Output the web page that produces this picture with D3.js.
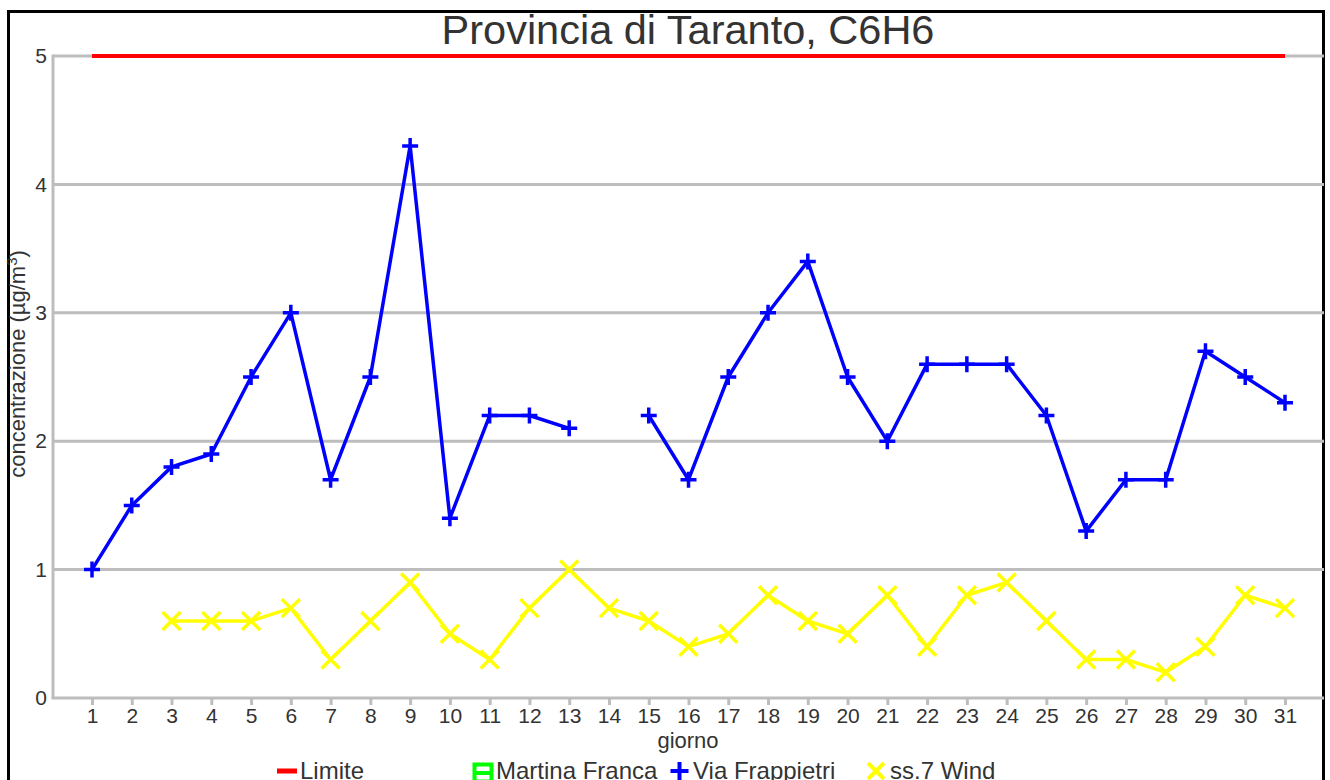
<!DOCTYPE html>
<html>
<head>
<meta charset="utf-8">
<script src="https://cdn.jsdelivr.net/npm/d3@7"></script>
<style>
  html, body { margin: 0; padding: 0; background: #fff; }
  svg { display: block; font-family: "Liberation Sans", Arial, sans-serif; }
</style>
</head>
<body>
<svg id="chart" width="1330" height="780"></svg>
<script>
// Daily benzene (C6H6) concentrations, province of Taranto
const days = d3.range(1, 32);
const yTicks = [0, 1, 2, 3, 4, 5];
const limite = 5;
const martinaFranca = days.map(() => null);
const viaFrappietri = [1.0, 1.5, 1.8, 1.9, 2.5, 3.0, 1.7, 2.5, 4.3, 1.4, 2.2, 2.2, 2.1, null, 2.2, 1.7,
  2.5, 3.0, 3.4, 2.5, 2.0, 2.6, 2.6, 2.6, 2.2, 1.3, 1.7, 1.7, 2.7, 2.5, 2.3];
const ss7Wind = [null, null, 0.6, 0.6, 0.6, 0.7, 0.3, 0.6, 0.9, 0.5, 0.3, 0.7, 1.0, 0.7, 0.6, 0.4,
  0.5, 0.8, 0.6, 0.5, 0.8, 0.4, 0.8, 0.9, 0.6, 0.3, 0.3, 0.2, 0.4, 0.8, 0.7];
const legendItems = [
  { name: "Limite", key: "limite" },
  { name: "Martina Franca", key: "martina" },
  { name: "Via Frappietri", key: "via" },
  { name: "ss.7 Wind", key: "wind" }
];

const svg = d3.select("#chart");
const textColor = "#333";
const gridColor = "#bdbdbd";

const plotLeft = 53, plotRight = 1324, plotTop = 56, plotBottom = 698;

const x = d3.scaleLinear().domain([1, 31]).range([92, 1285]);
const y = d3.scaleLinear().domain([0, 5]).range([plotBottom, plotTop]);

// outer frame
svg.append("rect")
  .attr("x", 8.5).attr("y", 11.5)
  .attr("width", 1315).attr("height", 800)
  .attr("fill", "none").attr("stroke", "#000").attr("stroke-width", 3);

// horizontal grid
svg.append("g").selectAll("line").data(yTicks.filter(d => d > 0)).join("line")
  .attr("x1", plotLeft).attr("x2", plotRight)
  .attr("y1", d => y(d)).attr("y2", d => y(d))
  .attr("stroke", gridColor).attr("stroke-width", 3);

// y axis
const yAxis = svg.append("g")
  .attr("transform", `translate(${plotLeft},0)`)
  .call(d3.axisLeft(y).tickValues(yTicks).tickSize(0).tickPadding(6).tickFormat(d3.format("d")));
yAxis.select(".domain").attr("stroke", gridColor).attr("stroke-width", 3)
  .attr("d", `M0,${plotTop - 1.5}V${plotBottom}`);
yAxis.selectAll("text").attr("fill", textColor).style("font-size", "21px")
  .style("font-family", "'Liberation Sans', Arial, sans-serif");

// x axis
const xAxis = svg.append("g")
  .attr("transform", `translate(0,${plotBottom})`)
  .call(d3.axisBottom(x).tickValues(days).tickSize(7).tickPadding(3).tickFormat(d3.format("d")));
xAxis.select(".domain").attr("stroke", gridColor).attr("stroke-width", 3)
  .attr("d", `M${plotLeft - 1.5},0H${plotRight}`);
xAxis.selectAll(".tick line").attr("stroke", gridColor).attr("stroke-width", 3);
xAxis.selectAll("text").attr("fill", textColor).style("font-size", "21px")
  .style("font-family", "'Liberation Sans', Arial, sans-serif");

// title and axis titles
svg.append("text")
  .attr("x", 688).attr("y", 44).attr("text-anchor", "middle")
  .attr("fill", textColor).style("font-size", "41.5px")
  .text("Provincia di Taranto, C6H6");

svg.append("text")
  .attr("x", 688).attr("y", 748).attr("text-anchor", "middle")
  .attr("fill", textColor).style("font-size", "22px")
  .text("giorno");

const yLabel = svg.append("text")
  .attr("transform", "translate(25,364) rotate(-90)")
  .attr("text-anchor", "middle")
  .attr("fill", textColor).style("font-size", "22px");
yLabel.append("tspan").text("concentrazione (µg/m");
yLabel.append("tspan").attr("dy", -8).style("font-size", "15px").text("3");
yLabel.append("tspan").attr("dy", 8).text(")");

// limit line
svg.append("line")
  .attr("x1", x(1)).attr("x2", x(31))
  .attr("y1", y(limite)).attr("y2", y(limite))
  .attr("stroke", "#ff0000").attr("stroke-width", 4);

// series lines
const line = d3.line()
  .defined(d => d.v != null)
  .x(d => x(d.day)).y(d => y(d.v));

function drawSeries(values, color) {
  const pts = values.map((v, i) => ({ day: days[i], v }));
  svg.append("path").datum(pts)
    .attr("d", line).attr("fill", "none")
    .attr("stroke", color).attr("stroke-width", 3.5)
    .attr("stroke-linejoin", "round");
  return pts.filter(d => d.v != null);
}

const plusPath = s => `M${-s},0H${s}M0,${-s}V${s}`;
const crossPath = s => `M${-s},${-s}L${s},${s}M${-s},${s}L${s},${-s}`;

const viaPts = drawSeries(viaFrappietri, "#0000ff");
const windPts = drawSeries(ss7Wind, "#ffff00");
drawSeries(martinaFranca, "#00ff00");

svg.append("g").selectAll("path").data(viaPts).join("path")
  .attr("transform", d => `translate(${x(d.day)},${y(d.v)})`)
  .attr("d", plusPath(8)).attr("stroke", "#0000ff").attr("stroke-width", 3.5).attr("fill", "none");

svg.append("g").selectAll("path").data(windPts).join("path")
  .attr("transform", d => `translate(${x(d.day)},${y(d.v)})`)
  .attr("d", crossPath(9)).attr("stroke", "#ffff00").attr("stroke-width", 3.5).attr("fill", "none");

// legend
const legendPos = { limite: 277, martina: 473, via: 670, wind: 867 };
const legendY = 771;
const lg = svg.append("g");
legendItems.forEach(item => {
  const x0 = legendPos[item.key];
  const g = lg.append("g").attr("transform", `translate(${x0},${legendY})`);
  if (item.key === "limite") {
    g.append("rect").attr("x", 0).attr("y", -2.5).attr("width", 20).attr("height", 5).attr("fill", "#ff0000");
  } else if (item.key === "martina") {
    g.append("rect").attr("x", 1.5).attr("y", -6.5).attr("width", 17).attr("height", 17)
      .attr("fill", "#fff").attr("stroke", "#00ff00").attr("stroke-width", 4);
    g.append("line").attr("x1", 2).attr("x2", 18).attr("y1", 2).attr("y2", 2)
      .attr("stroke", "#00ff00").attr("stroke-width", 4);
  } else if (item.key === "via") {
    g.append("path").attr("transform", "translate(9.5,0)").attr("d", plusPath(9))
      .attr("stroke", "#0000ff").attr("stroke-width", 4);
  } else {
    g.append("path").attr("transform", "translate(9,0)").attr("d", crossPath(8))
      .attr("stroke", "#ffff00").attr("stroke-width", 4);
  }
  g.append("text").attr("x", 23).attr("y", 8)
    .attr("fill", textColor).style("font-size", "24px")
    .text(item.name);
});
</script>
</body>
</html>
